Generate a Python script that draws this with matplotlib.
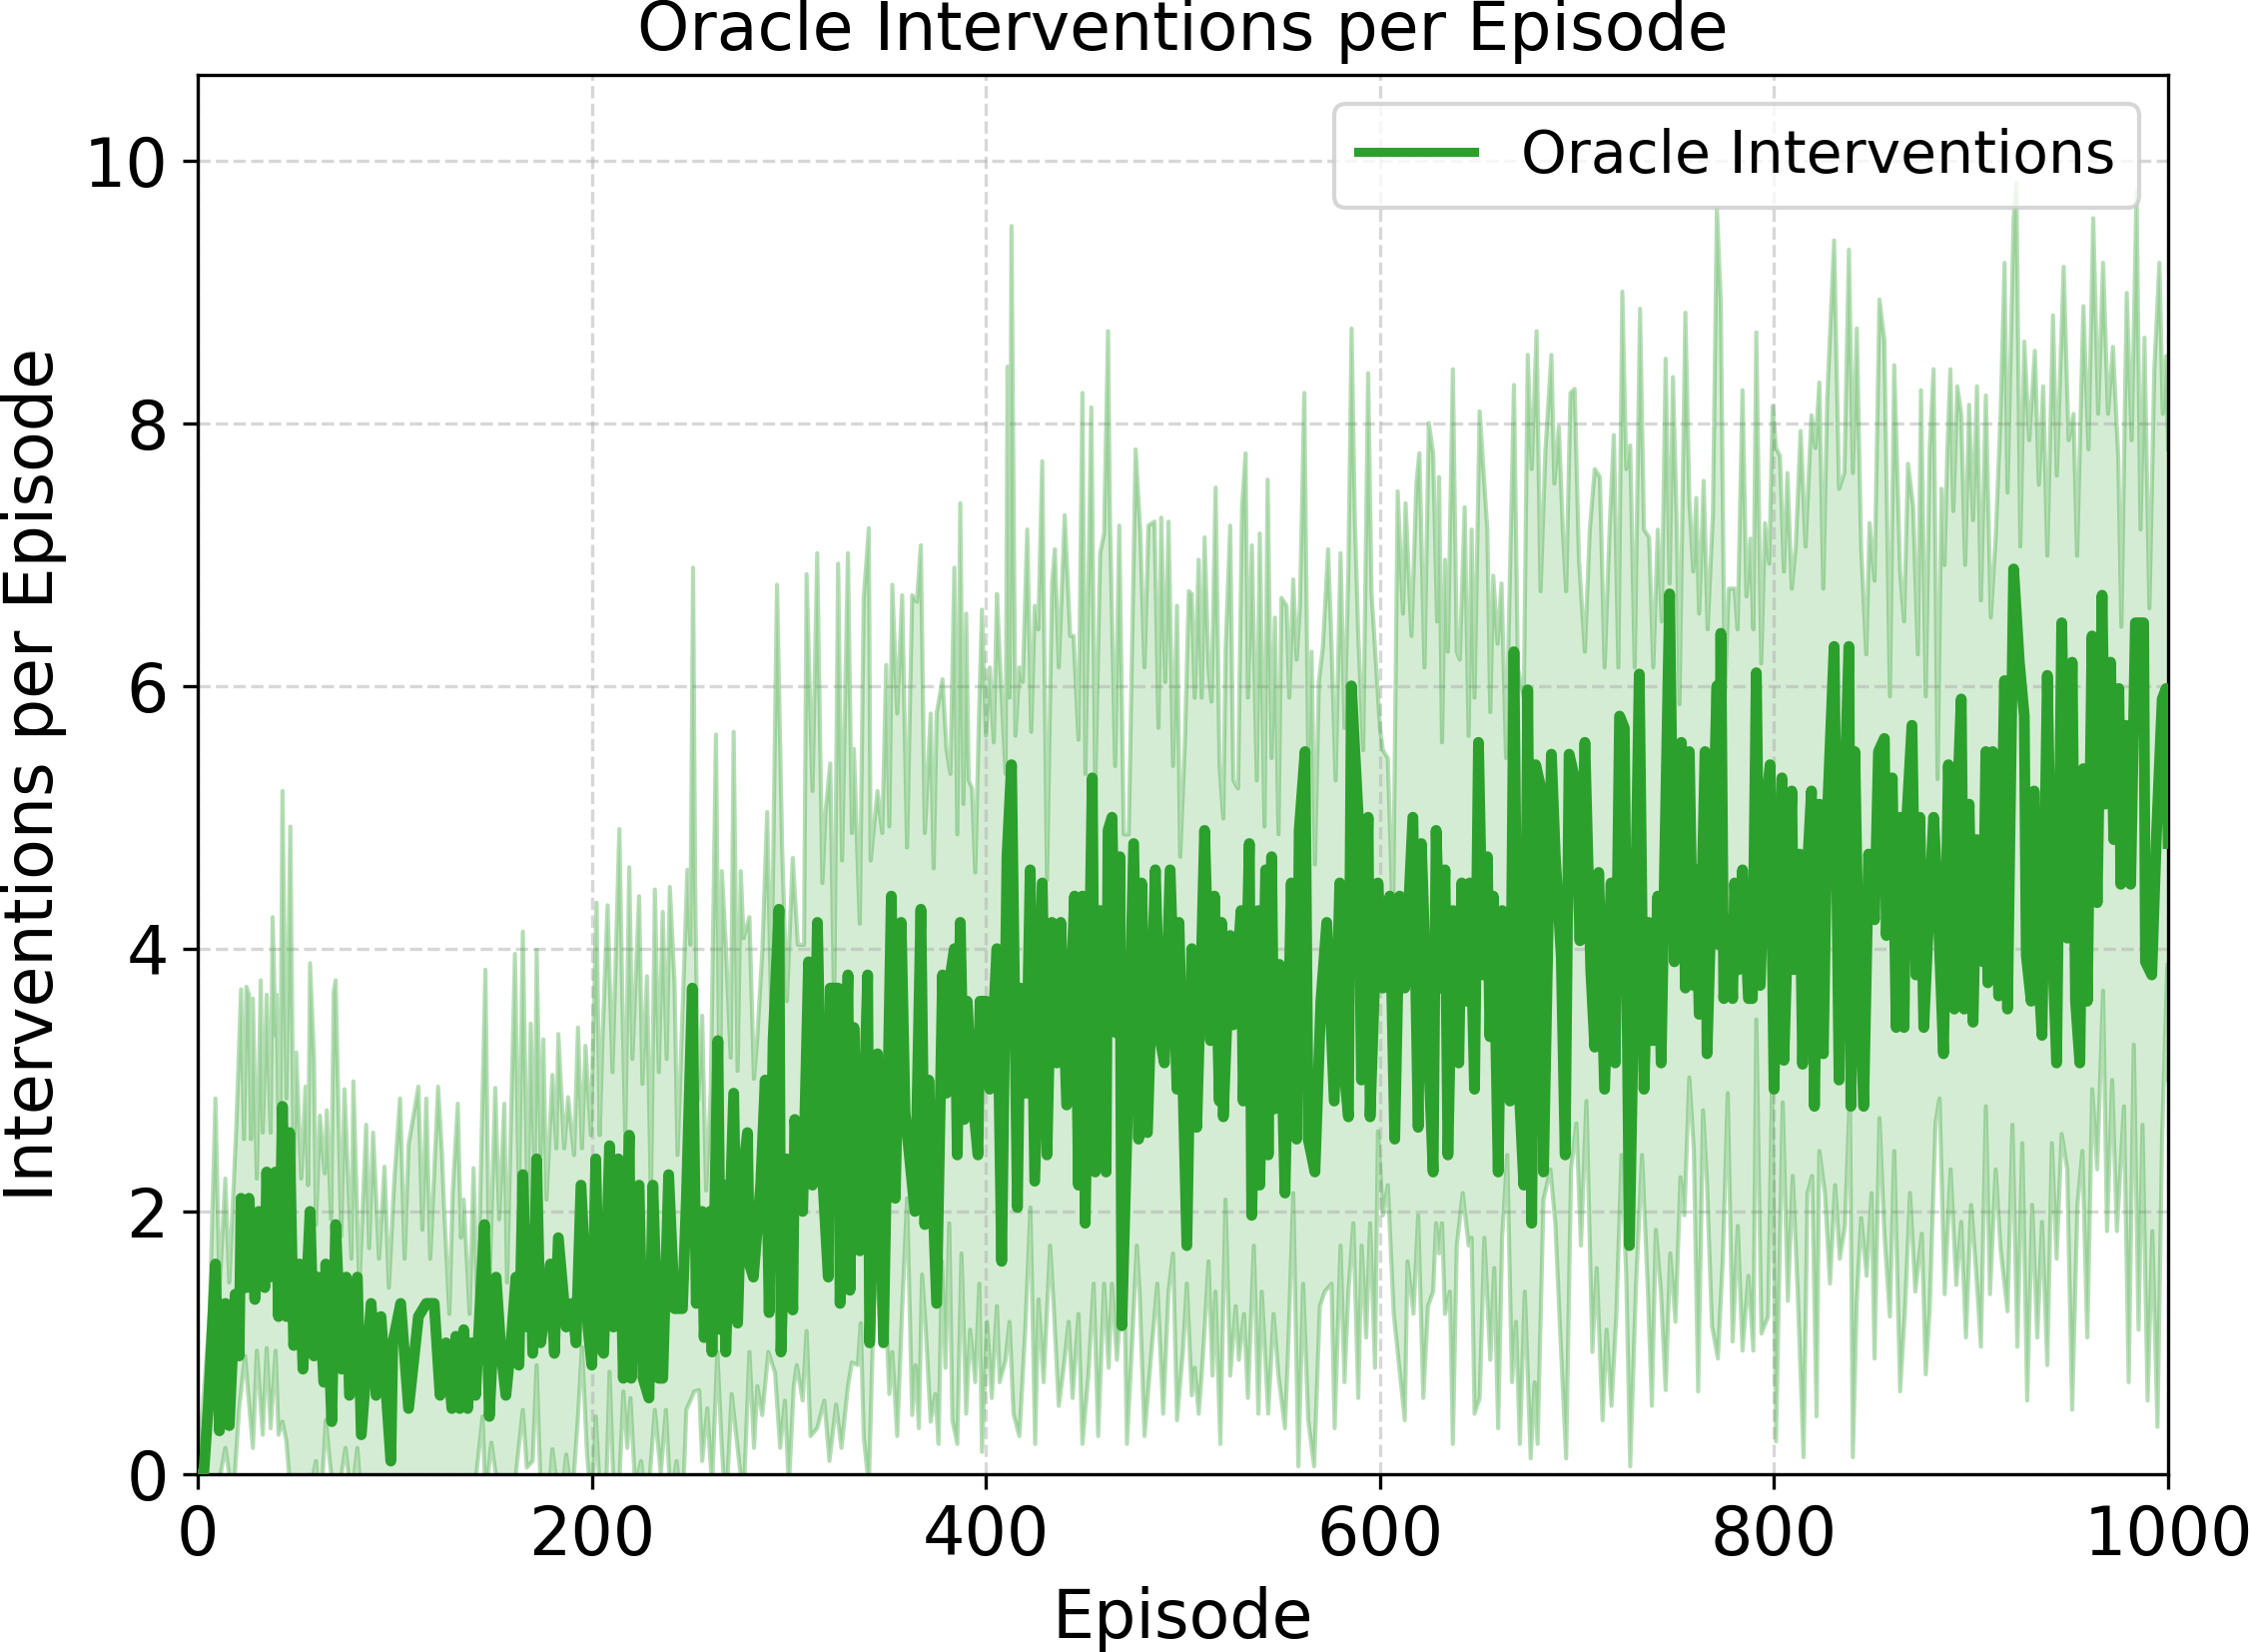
import numpy as np
import matplotlib
matplotlib.use("Agg")
import matplotlib.pyplot as plt

# ---------------- data ----------------
main_ep = [0, 3, 5.3, 9, 11, 14, 16, 19, 21, 22, 24.7, 26, 29, 31, 34, 35, 36.5, 39.5, 41, 43, 45, 46.6, 48.7,
           51.7, 53.4, 57, 59, 61, 64, 65, 68, 70, 73, 75.4, 77, 81, 83, 88, 90.5, 93, 98, 99, 103, 107, 112,
           116, 120, 123, 126, 129, 131, 133, 135, 137, 139, 141, 143, 145.5, 148, 151.4, 154, 156.4, 159,
           161.5, 163, 165, 167.4, 168.6, 170, 172, 174, 177, 179, 181, 183, 187, 190, 192, 194.5, 198, 200,
           202, 204, 206, 209, 211, 213.5, 216, 219, 220, 224, 226, 229, 231, 234, 236, 239, 242, 246, 248,
           251, 253, 256, 257, 260, 261, 264, 265.5, 267, 268, 272, 274, 276, 279, 280, 282, 285.7, 288, 290,
           292, 295, 296, 299, 302, 303, 307, 310, 312, 314.5, 317, 320, 321, 325, 326, 330, 331, 333, 336,
           340, 341, 345, 348, 352, 354, 357, 359, 364, 367, 369, 371, 375, 378, 380, 382, 384, 385.5, 387,
           389, 390.5, 393, 396, 397, 400, 402, 405.6, 408, 410.7, 413, 416, 417.5, 420.4, 422.5, 424.8,
           428.6, 431, 433.5, 436, 438, 441, 445, 447, 449, 450.4, 454, 455.5, 458, 461, 462, 464, 466, 468,
           469, 471.5, 475, 477.5, 479, 482, 486, 488.5, 490.6, 493.5, 497, 498, 502, 504.5, 507, 509, 511,
           514, 516, 518.5, 519.6, 520.5, 524, 525.6, 529.5, 530.6, 533.7, 534.9, 538.3, 539, 542, 543.3,
           545, 546.4, 549, 551.8, 555, 557.7, 559, 562, 563.6, 567, 570, 573, 576.8, 579.6, 581.4, 584,
           585.5, 589, 590.6, 594, 595, 599, 601.5, 605, 607.5, 610, 612.6, 616.7, 619.4, 621, 624.4, 627,
           628.5, 631, 633, 634.5, 637, 640, 641.5, 644, 645.6, 648, 650, 652.3, 654.5, 655.8, 657.5, 660,
           662, 664, 666, 668, 670, 673, 675, 677, 679, 682, 683, 687, 689, 692, 694, 696, 699, 701.5, 704,
           707, 709, 711, 714, 717.3, 719.4, 721.6, 724, 726.6, 729.5, 731.6, 734, 736.3, 738.5, 741, 742.7,
           744.4, 747, 749.4, 753, 755, 757, 759, 760.5, 762, 765, 766, 769, 771, 772, 773, 774.5, 777, 779,
           780, 782, 784, 787, 789, 791, 793, 796, 798, 800, 801.5, 804, 805, 809, 810, 813, 814.5, 816, 819,
           820.5, 823, 825, 827, 830.5, 833, 835, 838, 839, 841, 843, 845.5, 848, 851, 853, 856, 857, 860,
           862, 864, 866, 867, 870, 872, 874, 876, 879, 881, 883, 886, 888.5, 891.5, 893, 895, 896.5, 899,
           901, 903, 906, 907.5, 908.5, 911, 914, 917, 918.5, 921.6, 924.5, 927, 928, 930.5, 932, 933.7,
           936, 938.7, 941, 943.4, 946, 948.8, 951.3, 953, 955.2, 957, 959, 961.4, 964, 966.5, 968, 970.8,
           972.4, 975, 976, 978.4, 981, 983.4, 987.6, 988.5, 991.7, 994, 997, 999, 1000]
main_val = [0.0, 0.0, 0.5, 1.6, 0.33, 1.3, 0.37, 1.37, 0.9, 2.1, 1.42, 2.1, 1.33, 2.0, 1.42, 2.3, 1.5, 2.3, 1.2,
            2.8, 1.2, 2.6, 0.98, 1.6, 0.8, 2.0, 0.9, 1.5, 0.7, 1.6, 0.4, 1.9, 0.8, 1.5, 0.6, 1.5, 0.3, 1.3, 0.6,
            1.2, 0.1, 1.0, 1.3, 0.5, 1.2, 1.3, 1.3, 0.6, 1.0, 0.5, 1.05, 0.5, 1.1, 0.5, 1.0, 0.6, 1.2, 1.9, 0.44,
            1.5, 0.92, 0.6, 1.0, 1.5, 0.83, 2.28, 1.12, 1.8, 0.92, 2.4, 1.0, 1.3, 1.6, 0.92, 1.8, 1.12, 1.3, 1.0,
            2.2, 1.12, 0.83, 2.4, 0.97, 0.92, 2.5, 1.12, 2.4, 0.73, 2.58, 0.73, 2.2, 0.73, 0.58, 2.2, 0.73, 0.73,
            2.28, 1.26, 1.26, 2.1, 3.7, 1.3, 2.0, 1.04, 2.0, 0.93, 3.3, 1.1, 2.2, 0.93, 2.9, 1.15, 2.2, 2.6, 1.6,
            1.5, 2.2, 3.0, 1.23, 3.3, 4.3, 0.93, 2.4, 1.25, 2.7, 2.0, 3.9, 2.2, 4.2, 2.3, 1.5, 3.7, 3.7, 1.3,
            3.8, 1.4, 3.4, 1.7, 3.8, 1.0, 3.2, 1.0, 4.4, 2.1, 4.2, 2.75, 2.0, 4.3, 1.9, 3.0, 1.3, 3.8, 2.9, 3.8,
            4.0, 2.43, 4.2, 2.7, 3.6, 2.9, 2.43, 3.6, 3.6, 2.93, 4.0, 1.62, 4.7, 5.4, 2.03, 3.7, 2.9, 4.6, 2.23,
            4.5, 2.43, 4.2, 3.13, 4.2, 2.81, 4.4, 2.2, 4.4, 1.91, 5.3, 2.3, 4.29, 2.3, 4.9, 5.0, 3.36, 4.7, 1.13,
            2.55, 4.8, 2.55, 4.5, 2.6, 4.6, 3.3, 3.13, 4.6, 2.93, 4.2, 1.74, 4.0, 2.64, 3.7, 4.9, 3.3, 4.4, 2.84,
            4.2, 2.72, 4.1, 3.42, 4.29, 2.84, 4.8, 1.97, 4.29, 2.2, 4.6, 2.43, 4.7, 2.78, 3.88, 2.14, 4.5, 2.55,
            4.9, 5.5, 2.55, 2.3, 3.6, 4.2, 2.84, 4.5, 3.13, 2.72, 6.0, 5.0, 3.0, 5.0, 2.72, 4.5, 3.7, 4.4, 2.55,
            4.4, 3.7, 5.0, 2.64, 4.8, 3.28, 2.3, 4.9, 3.7, 4.6, 2.43, 4.29, 3.13, 4.5, 3.6, 4.5, 2.93, 5.57, 3.8,
            4.7, 3.33, 4.4, 2.3, 4.29, 3.13, 2.84, 6.26, 3.13, 2.2, 5.97, 1.91, 5.4, 5.2, 2.3, 5.48, 4.7, 3.94,
            2.43, 5.48, 5.28, 4.06, 5.57, 3.83, 3.25, 4.58, 2.93, 4.5, 3.13, 5.77, 5.68, 1.74, 4.2, 6.09, 2.93,
            4.2, 3.3, 4.4, 3.13, 4.58, 6.7, 3.9, 5.57, 3.7, 5.5, 3.72, 4.6, 3.5, 5.5, 3.2, 4.8, 6.0, 4.03, 6.4,
            3.62, 4.22, 3.62, 4.5, 3.84, 4.6, 3.62, 3.62, 6.1, 3.72, 5.1, 5.4, 2.93, 4.16, 5.3, 3.15, 5.2, 3.84,
            4.72, 3.12, 4.35, 5.2, 2.8, 5.1, 3.2, 5.0, 6.3, 3.0, 4.79, 6.3, 2.8, 5.5, 3.8, 2.8, 4.72, 4.22, 5.5,
            5.6, 4.1, 5.3, 3.4, 5.0, 3.4, 4.9, 5.7, 3.8, 5.0, 3.4, 4.4, 5.0, 4.4, 3.2, 5.4, 3.54, 5.1, 5.9, 3.54,
            5.1, 3.44, 4.83, 3.9, 5.5, 3.74, 5.5, 3.64, 6.04, 3.54, 6.89, 6.18, 5.77, 3.95, 3.6, 5.2, 3.95, 3.34,
            6.08, 4.15, 3.13, 6.48, 4.08, 6.18, 3.6, 3.13, 5.37, 3.6, 6.38, 4.35, 6.69, 5.1, 6.18, 4.83, 5.98,
            4.49, 5.7, 4.49, 6.48, 6.48, 3.9, 3.8, 4.83, 5.9, 5.98, 4.8]

upper_ep = [0, 6, 9, 11, 14, 16, 19.6, 22, 23.5, 24.7, 26, 27, 28, 30, 32, 33, 35, 37, 38, 39.5, 40, 41.6, 43, 45,
            47, 48.7, 50, 52.5, 54.7, 56, 57, 59, 60, 62, 64.4, 65.5, 67.7, 69, 70, 72.8, 74.5, 78, 79, 82, 85.5,
            87, 89, 92, 94.8, 97, 99.8, 102.7, 105, 107, 112, 114, 116, 118, 122, 124, 125, 127.7, 129.4, 132,
            133.6, 135, 138, 140, 142, 146, 148, 151, 153, 155.6, 157, 161, 163, 165, 167.4, 169, 171, 172, 174,
            175.4, 177, 180, 182, 183, 186, 188, 191, 193, 195, 196.8, 199.5, 202.4, 204, 205.4, 208, 210.5,
            214, 215.6, 217, 219, 220.6, 224, 225.7, 228, 230, 232, 234, 236, 238, 239.6, 242, 243.5, 245,
            248.5, 250, 251.4, 252.5, 254, 256, 258, 260.4, 263, 265, 266, 268, 270.5, 272, 274, 275.6, 277,
            280, 282.3, 284, 286.5, 289, 291, 294, 296.6, 299, 302, 304.6, 307.7, 309, 312, 314.4, 317, 318.6,
            321, 323, 325, 327, 330, 332, 333, 336, 338, 340.6, 341.5, 345, 347.4, 349.4, 351, 352.5, 355,
            357.5, 360, 362.6, 365, 367, 369, 372, 373.5, 375, 378, 380, 382, 384, 385.5, 387, 388.6, 390,
            391.3, 393, 394.6, 396.4, 398, 400, 402, 404, 405.6, 407, 410, 411, 412, 413, 415, 417, 418.7, 421,
            423, 424.8, 426.6, 428.6, 431, 433.6, 435, 437, 440, 442.8, 444.5, 447, 449, 450.5, 453.5, 455.5,
            458, 460, 462, 463, 465.6, 467.7, 470, 472.5, 476, 478.3, 480.5, 482.5, 485.6, 487.6, 489, 491,
            492.7, 495, 497, 498.6, 501, 503, 504.5, 506, 508, 509.5, 511, 513, 514.5, 516.6, 518.6, 520.5,
            521.7, 524, 525.6, 528, 530, 531.8, 533, 535, 537.5, 539, 541.4, 543, 545, 546.7, 548.5, 550,
            552.6, 554, 556, 557.7, 559.4, 561.6, 563.6, 565.3, 567, 569, 571, 573.7, 575.4, 577.5, 580, 582,
            584, 585.6, 587.3, 589, 591.5, 594, 595.7, 597.5, 600, 601.5, 604, 606.6, 609, 611.7, 613, 616,
            618.5, 620, 622.6, 624.8, 627, 629, 630, 631.5, 633, 634.5, 637, 639, 640.5, 643, 645, 646.5, 648,
            650.6, 653, 654.5, 656, 657.5, 659.7, 661.7, 664, 668, 670, 673, 675, 677, 679.5, 681.5, 684, 687,
            688.5, 690.8, 692.8, 694.5, 696.7, 698.8, 701, 704, 706.5, 709, 711.6, 714, 716.7, 718.7, 721, 723,
            725, 727, 729.3, 732, 734, 736.6, 738.7, 741, 743, 745, 747, 748.7, 750.7, 752, 755, 757, 759,
            760.5, 762, 764.3, 766.3, 769, 771, 773, 775, 777, 780, 781.5, 784, 786, 788, 789.5, 791, 793.5,
            795.4, 797.6, 799.3, 801, 803, 805, 806.8, 809, 811, 813.5, 816, 819, 821, 823, 825, 827, 830.5,
            833, 835.7, 838, 840, 842, 844.2, 846.8, 848.5, 851, 853.5, 856, 858.8, 861, 864, 866, 868, 870.6,
            873, 874.6, 877, 879, 881, 883, 885, 886.5, 888, 889.5, 891, 893, 895, 897, 899, 901, 903, 905,
            907.5, 910, 912.5, 915, 917, 918.5, 921.6, 923, 925, 927, 929.5, 932.4, 934.4, 936.6, 938.7, 941.6,
            943.5, 947, 949.5, 952, 953.8, 957, 959.6, 962, 964.5, 967, 969.5, 972, 974.7, 976.3, 979, 981.5,
            984, 986, 988, 990.5, 993, 995.6, 997.3, 999, 1000]
upper_val = [0.0, 1.2, 2.86, 1.4, 2.25, 1.46, 2.66, 3.69, 2.55, 3.71, 3.65, 2.55, 3.62, 2.25, 3.76, 2.6, 3.65,
             2.6, 4.24, 3.34, 3.65, 2.03, 5.2, 2.86, 4.93, 2.29, 3.21, 2.25, 2.95, 2.2, 3.89, 3.17, 1.9, 2.73,
             2.29, 2.77, 1.94, 3.67, 3.76, 1.81, 2.93, 1.64, 2.99, 1.42, 2.66, 1.72, 2.6, 1.64, 2.34, 1.42, 2.25,
             2.86, 1.64, 2.51, 2.95, 1.86, 2.86, 1.64, 2.95, 2.43, 2.04, 1.22, 2.14, 2.82, 1.8, 2.09, 1.22, 2.33,
             1.17, 3.84, 1.41, 2.94, 1.94, 2.82, 1.46, 3.96, 2.09, 4.13, 1.99, 3.43, 2.28, 3.99, 2.43, 3.31,
             2.09, 3.04, 2.48, 3.35, 2.48, 2.87, 2.43, 3.4, 2.48, 3.26, 2.58, 4.35, 2.58, 3.31, 4.33, 3.06, 4.91,
             3.55, 2.58, 4.62, 3.16, 4.4, 2.97, 3.79, 2.09, 4.45, 3.06, 4.28, 3.16, 4.47, 3.74, 2.43, 3.06, 4.6,
             4.03, 6.9, 4.4, 2.85, 3.49, 2.16, 2.93, 5.63, 2.59, 4.59, 4.03, 3.17, 5.65, 3.07, 4.59, 4.08, 4.24,
             3.01, 3.33, 3.97, 5.04, 3.55, 6.77, 4.77, 3.6, 4.69, 4.03, 4.03, 6.85, 5.2, 7.01, 4.5, 5.04, 5.41,
             3.55, 6.93, 4.67, 7.01, 4.88, 5.52, 4.19, 6.67, 7.2, 4.67, 5.2, 4.88, 6.16, 4.93, 6.77, 5.79, 6.69,
             4.77, 6.69, 6.64, 7.07, 4.88, 5.79, 4.61, 5.79, 6.05, 5.52, 5.33, 6.9, 4.87, 7.39, 5.1, 6.55, 5.28,
             5.22, 4.58, 5.71, 6.58, 5.62, 6.14, 5.57, 6.7, 6.23, 5.33, 8.43, 5.91, 9.5, 5.62, 6.14, 6.03, 7.19,
             5.65, 6.61, 6.43, 7.71, 4.52, 6.78, 7.04, 6.14, 7.3, 6.38, 6.38, 5.59, 8.23, 5.33, 8.12, 5.22, 7.01,
             7.16, 8.7, 7.25, 5.39, 7.22, 4.87, 4.87, 7.8, 7.19, 6.14, 7.22, 7.25, 5.68, 7.28, 6.03, 7.25, 5.39,
             6.61, 4.7, 5.57, 6.72, 6.7, 5.91, 6.96, 5.91, 7.13, 6.14, 5.88, 7.51, 5.39, 4.99, 6.29, 7.22, 5.28,
             5.22, 7.36, 7.77, 5.91, 7.07, 5.28, 7.16, 4.93, 7.57, 5.45, 6.52, 4.87, 6.67, 6.61, 5.91, 6.81, 6.2,
             6.61, 8.23, 5.45, 6.26, 4.64, 6.03, 6.29, 7.04, 6.32, 5.28, 7.01, 5.68, 6.9, 8.72, 7.25, 6.38, 5.51,
             8.38, 6.72, 6.29, 5.68, 5.51, 5.45, 4.17, 7.48, 6.55, 7.39, 6.38, 7.54, 7.77, 6.14, 8.0, 7.77, 6.49,
             7.59, 5.57, 6.96, 6.26, 8.41, 6.26, 6.2, 7.36, 5.62, 7.19, 5.91, 8.09, 7.54, 7.19, 5.8, 6.84, 6.32,
             6.78, 5.45, 8.29, 6.14, 5.91, 8.52, 7.65, 8.7, 6.72, 7.8, 8.52, 7.54, 7.97, 7.19, 6.72, 8.23, 8.26,
             6.96, 6.26, 7.19, 7.65, 7.59, 6.14, 7.25, 7.91, 6.14, 9.0, 7.65, 7.83, 6.14, 8.87, 7.19, 7.13, 6.14,
             7.19, 6.49, 8.49, 6.78, 8.35, 7.19, 5.86, 8.84, 7.42, 6.87, 7.43, 6.55, 7.56, 6.43, 7.31, 9.64, 8.91,
             5.92, 6.74, 6.74, 6.43, 8.25, 6.68, 7.12, 6.43, 8.69, 6.17, 7.24, 6.93, 8.13, 7.81, 7.75, 6.87, 7.62,
             6.74, 7.06, 7.94, 7.06, 8.06, 7.81, 8.31, 6.74, 8.19, 9.39, 7.5, 7.62, 9.32, 7.62, 8.72, 7.06, 6.24,
             7.24, 6.8, 8.94, 8.63, 5.92, 8.44, 6.87, 6.49, 7.69, 7.37, 6.24, 8.25, 5.92, 7.81, 8.41, 5.29, 7.5,
             6.92, 7.81, 8.41, 7.33, 8.28, 8.07, 6.92, 8.14, 7.26, 8.28, 6.65, 8.21, 6.52, 7.13, 8.07, 9.22, 7.47,
             9.56, 9.83, 7.06, 8.62, 7.87, 8.55, 7.53, 8.28, 6.99, 8.82, 7.6, 9.19, 7.87, 8.07, 6.99, 8.89, 7.8,
             9.56, 8.07, 9.22, 8.07, 8.58, 7.74, 6.45, 8.99, 7.87, 9.77, 7.19, 8.65, 6.59, 8.41, 9.22, 8.07, 8.51,
             7.8]

lower_ep = [0, 8, 14, 18, 21, 24, 26, 28, 30, 33, 35, 37, 39.5, 41, 43, 45, 48, 52, 56, 60, 62, 65, 67, 70, 75,
            78, 81, 84, 90, 95, 100, 105, 110, 115, 120, 125, 130, 137, 144.6, 146, 149, 155, 160, 165, 167, 170,
            172, 174, 177, 180, 184, 187, 190, 193, 195, 197.6, 200, 202, 204, 207, 209, 211, 213, 216, 218,
            219.6, 222, 225, 228, 232, 235, 237.6, 240, 243, 246, 248, 252, 254.5, 256, 258.6, 261, 263.7, 266,
            268, 271, 274, 277, 280, 282.3, 284, 286.5, 289.6, 293, 295.6, 298, 300, 302.5, 304, 307, 309, 311,
            314.4, 318, 320.6, 324, 326.7, 330, 332, 335, 336.5, 338, 340.6, 344, 346, 348.2, 351, 352.5, 355,
            357.5, 360, 362.6, 364.3, 366, 367.6, 369.3, 372, 374.4, 376, 377.7, 379.5, 381.4, 383, 385.5,
            387.6, 390, 392, 394.6, 396.7, 398, 400.6, 403, 405.6, 407, 410, 412, 414, 417, 420, 422.6, 425,
            426.7, 429.3, 432.6, 434.4, 437, 439.5, 442, 444, 447, 449, 452, 454.7, 457, 460, 462.3, 464, 466.5,
            470, 471.6, 474, 476.6, 478, 480.5, 484, 487, 490, 492.7, 495, 497, 500, 502, 504.5, 506, 508,
            509.5, 511, 513, 515, 516.5, 519, 521.6, 524, 526.8, 528.4, 531, 533, 536, 538.3, 540, 543.3, 546,
            548.5, 551.8, 553.5, 556, 558.6, 561, 563.6, 566.6, 569.5, 572, 575.4, 577, 580, 582, 584, 586.5,
            589, 590.7, 593, 595, 597.5, 599, 601.5, 604, 607, 609, 612.6, 614, 617, 619.4, 622, 624.4, 627,
            628.5, 630, 631.5, 633, 635.5, 637, 639, 642, 645, 646.5, 648, 650.6, 653, 656, 658, 660, 662,
            664.6, 667, 669, 671, 673.5, 676.5, 678.5, 680, 683, 686.5, 689, 691.6, 694.5, 697, 699.7, 702,
            704.8, 707.8, 710, 713, 715, 717.5, 720, 722.6, 725, 727, 730, 733, 736, 738, 740, 742.6, 745,
            747.3, 750, 752.5, 754.5, 757, 759.3, 761.5, 764, 766, 768.5, 771.5, 774, 776.5, 779, 781.6, 784,
            787, 789.5, 791, 793.6, 797, 799, 801, 804.4, 807, 809.5, 812, 815, 817, 819.3, 821.6, 823, 825.8,
            828.4, 831, 833.4, 836, 838.5, 840, 842, 844.2, 847, 849.5, 851, 853.5, 856, 858.8, 861, 864,
            866.5, 869, 871.7, 875, 877, 879, 882, 884, 886.6, 889.6, 892.5, 895, 897.4, 900, 902.4, 905,
            907.5, 909.6, 912.5, 915, 918.5, 921, 923.5, 926, 928.5, 931, 933.6, 936, 938.7, 941, 943.4, 946,
            948.8, 951.3, 954, 956.5, 959, 961.5, 964, 967, 969, 971.6, 974, 977.6, 980, 982.6, 985, 987, 989.6,
            992, 994.6, 997, 999.6, 1000]
lower_val = [-0.5, -0.3, 0.2, -0.2, 0.5, 0.9, 0.55, 0.2, 0.94, 0.3, 0.96, 0.35, 0.94, 0.3, 0.4, 0.25, -0.3,
             -0.5, -0.2, 0.1, -0.4, 0.41, 0.1, -0.3, 0.2, -0.2, 0.2, -0.4, -0.2, -0.5, -0.1, -0.4, -0.2, -0.5,
             -0.1, -0.4, -0.3, -0.6, 0.44, -0.2, 0.24, -0.4, -0.2, 0.49, 0.05, 0.1, 0.83, -0.1, -0.4, 0.19, -0.3,
             0.15, -0.2, 0.44, 0.97, 0.15, -0.3, 0.44, -0.1, -0.3, 0.78, -0.1, -0.4, 0.63, 0.2, 0.58, -0.1, 0.1,
             -0.3, 0.49, 0.0, 0.49, -0.2, 0.1, -0.3, 0.49, 0.63, 0.64, 0.1, 0.5, -0.1, 0.93, 0.2, -0.3, 0.61,
             0.2, -0.2, 0.93, 0.2, 0.67, 0.45, 0.93, 0.77, 0.2, 0.56, -0.1, 0.67, 0.83, 0.56, 1.09, 0.29, 0.35,
             0.56, 0.1, 0.53, 0.2, 0.67, 0.85, 0.83, 1.15, 0.29, -0.1, 1.79, 1.2, 1.63, 0.61, 0.93, 0.29, 1.25,
             2.1, 0.45, 0.83, 0.35, 1.52, 1.15, 0.4, 0.61, 0.23, 1.62, 0.81, 1.91, 0.41, 0.23, 1.68, 0.46, 1.1,
             0.7, 1.45, 0.17, 1.16, 0.58, 1.28, 0.7, 0.87, 1.16, 0.46, 0.29, 1.1, 2.03, 0.23, 1.33, 0.7, 1.74,
             1.28, 0.52, 0.81, 1.16, 0.58, 1.22, 0.23, 0.75, 1.45, 0.29, 1.45, 0.81, 1.45, 0.87, 1.62, 0.23,
             0.93, 1.74, 1.39, 0.29, 0.93, 1.45, 0.46, 1.39, 1.68, 0.41, 0.93, 1.45, 0.6, 0.81, 0.46, 0.75, 1.1,
             1.62, 0.75, 1.39, 0.23, 2.09, 0.75, 1.28, 0.87, 1.22, 0.58, 1.74, 0.46, 1.39, 0.46, 1.22, 0.75,
             0.35, 0.99, 2.14, 0.06, 1.45, 0.41, 0.06, 1.28, 1.39, 1.45, 0.35, 1.74, 0.7, 1.39, 1.91, 0.58, 1.74,
             1.04, 1.91, 0.81, 2.61, 1.97, 2.2, 1.22, 0.93, 0.41, 1.62, 1.22, 1.97, 0.58, 1.28, 1.39, 1.91, 1.68,
             1.91, 1.22, 1.39, 0.23, 1.74, 2.14, 1.74, 1.8, 0.46, 0.58, 1.8, 0.87, 1.57, 0.35, 1.8, 2.43, 0.7,
             1.16, 0.23, 1.39, 0.12, 0.7, 0.23, 2.09, 2.32, 1.91, 1.04, 0.12, 2.32, 2.67, 1.74, 2.84, 0.93, 1.57,
             0.41, 1.1, 0.52, 1.22, 2.43, 1.51, 0.06, 1.45, 2.43, 1.39, 0.52, 1.86, 1.39, 0.64, 1.68, 1.16, 2.26,
             1.97, 3.02, 2.46, 0.63, 2.77, 2.2, 1.13, 0.88, 1.64, 2.9, 1.01, 1.89, 0.94, 1.51, 0.94, 3.46, 1.07,
             1.2, 3.02, 0.25, 2.83, 1.32, 2.27, 1.39, 0.13, 2.14, 2.27, 0.44, 2.46, 2.14, 1.45, 2.2, 1.64, 1.89,
             2.9, 0.13, 1.32, 1.95, 1.51, 2.14, 0.88, 2.71, 1.83, 1.2, 2.46, 0.63, 1.26, 2.14, 1.39, 1.83, 0.76,
             1.26, 2.68, 2.86, 1.37, 2.32, 1.44, 1.92, 1.04, 2.05, 1.58, 0.97, 2.8, 1.37, 2.32, 1.71, 1.24, 2.66,
             0.97, 2.52, 0.56, 2.05, 1.04, 1.92, 0.83, 2.52, 1.64, 2.59, 2.32, 0.49, 2.05, 2.46, 1.04, 2.93,
             2.32, 3.68, 1.85, 3.0, 1.85, 2.8, 0.7, 3.27, 1.1, 2.66, 0.56, 1.85, 0.36, 2.59, 3.88, 3.0]

x_ticks = [0, 200, 400, 600, 800, 1000]
y_ticks = [0, 2, 4, 6, 8, 10]
title = "Oracle Interventions per Episode"
x_label = "Episode"
y_label = "Interventions per Episode"
legend_label = "Oracle Interventions"

# ---------------- figure ----------------
plt.rcParams['font.family'] = ['DejaVu Sans']
DPI = 300
fig = plt.figure(figsize=(2254 / DPI, 1654 / DPI), dpi=DPI)
ax = fig.add_axes([198 / 2254, 1 - 1476 / 1654, (2171 - 198) / 2254, (1476 - 75) / 1654])

green = '#2ca02c'
band_x = np.concatenate([np.array(upper_ep), np.array(lower_ep)[::-1]])
band_y = np.concatenate([np.array(upper_val), np.array(lower_val)[::-1]])
ax.fill(band_x, band_y, color=green, alpha=0.2, linewidth=0, zorder=1)
ax.plot(upper_ep, upper_val, color=green, alpha=0.35, linewidth=1.0, zorder=2)
ax.plot(lower_ep, lower_val, color=green, alpha=0.35, linewidth=1.0, zorder=2)
ax.plot(main_ep, main_val, color=green, linewidth=2.6, label=legend_label, zorder=3)

ax.set_xlim(0, 1000)
ax.set_ylim(0, 10.65)
ax.set_xticks(x_ticks)
ax.set_yticks(y_ticks)
ax.tick_params(labelsize=16)
ax.set_title(title, fontsize=16)
ax.set_xlabel(x_label, fontsize=16)
ax.set_ylabel(y_label, fontsize=16)
ax.grid(True, linestyle='--', alpha=0.5)
leg = ax.legend(loc='upper right', fontsize=14)
leg.get_lines()[0].set_linewidth(2.2)

fig.savefig('out.png', dpi=DPI)
